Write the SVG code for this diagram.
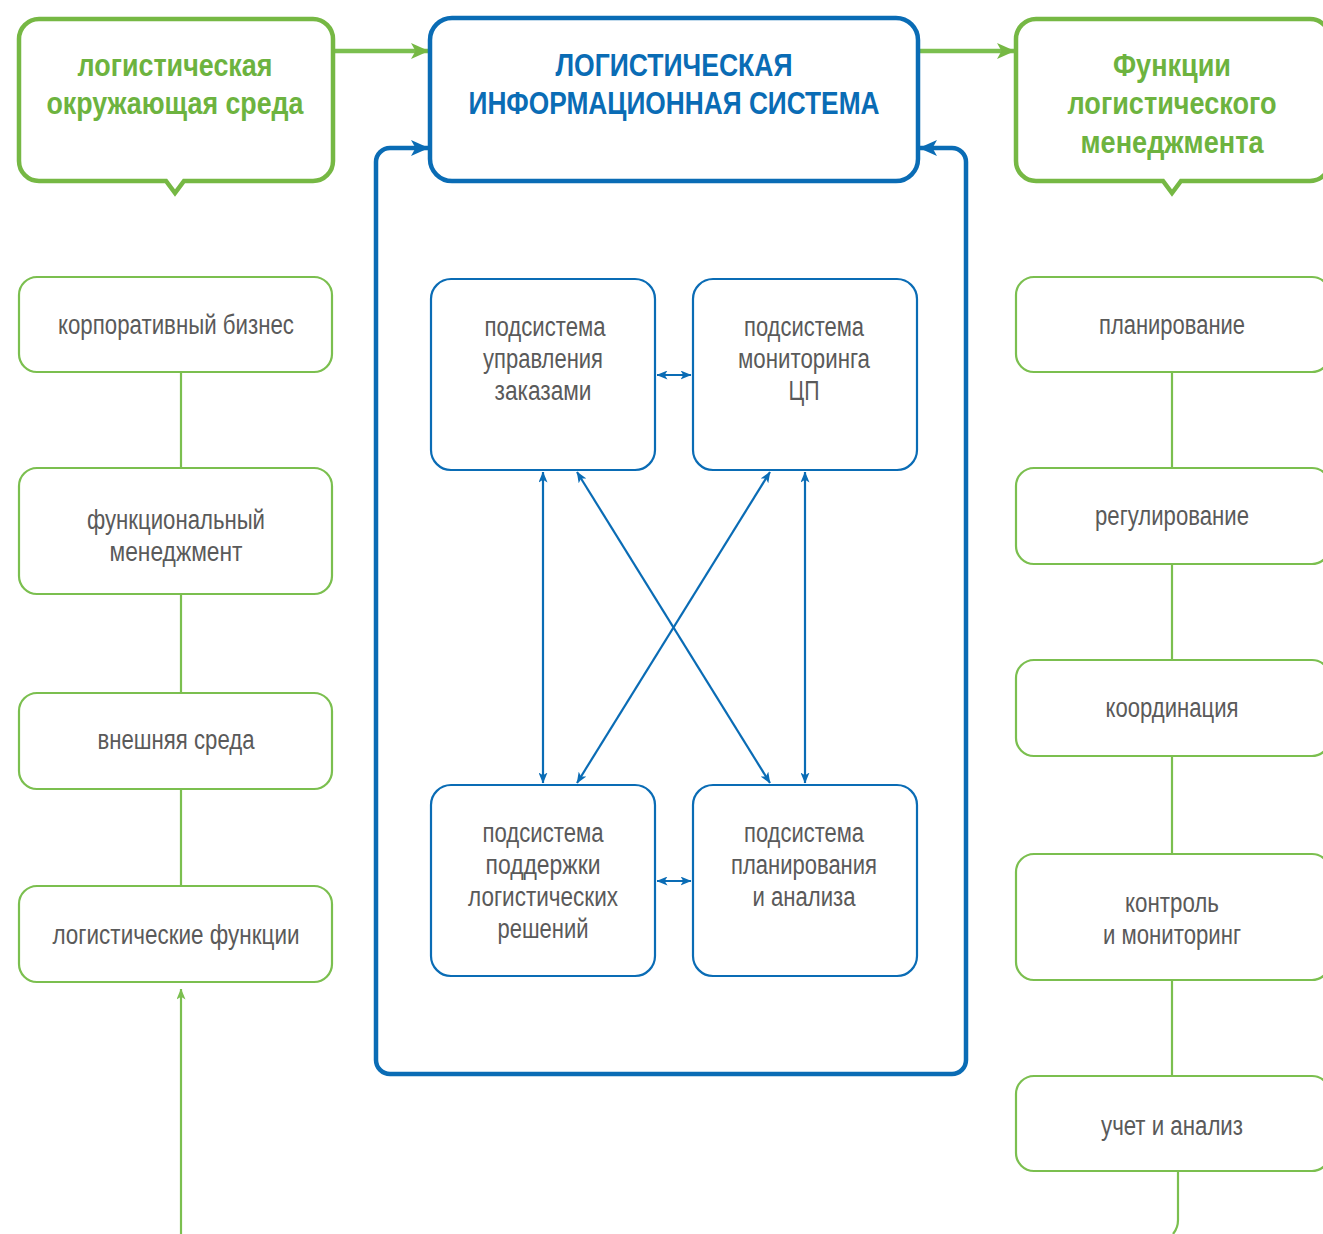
<svg xmlns="http://www.w3.org/2000/svg" width="1323" height="1234" viewBox="0 0 1323 1234">
<defs>
<style>
.gbig{fill:#fff;stroke:#76b844;stroke-width:4.5}
.bbig{fill:#fff;stroke:#0a6cb5;stroke-width:4.5}
.gbox{fill:#fff;stroke:#7bbf4f;stroke-width:2.2}
.bbox{fill:#fff;stroke:#0a6cb5;stroke-width:2.2}
.gline{fill:none;stroke:#7bbf4f;stroke-width:2.2}
.bline{fill:none;stroke:#0a6cb5;stroke-width:2.2}
.gt{font-family:"Liberation Sans",Arial,sans-serif;font-weight:bold;font-size:32px;fill:#6db33f;text-anchor:middle}
.bt{font-family:"Liberation Sans",Arial,sans-serif;font-weight:bold;font-size:32px;fill:#0a6cb5;text-anchor:middle}
.t{font-family:"Liberation Sans",Arial,sans-serif;font-size:27px;fill:#5a5a5a;text-anchor:middle}
</style>
<marker id="ag" viewBox="0 0 18 16" refX="17" refY="8" markerWidth="18" markerHeight="16" markerUnits="userSpaceOnUse" orient="auto"><path d="M0 0 L18 8 L0 16 L4.5 8 Z" fill="#76b844"/></marker>
<marker id="ab" viewBox="0 0 18 16" refX="17" refY="8" markerWidth="18" markerHeight="16" markerUnits="userSpaceOnUse" orient="auto"><path d="M0 0 L18 8 L0 16 L4.5 8 Z" fill="#0a6cb5"/></marker>
<marker id="sb" viewBox="0 0 11 9" refX="10.5" refY="4.5" markerWidth="11" markerHeight="9" markerUnits="userSpaceOnUse" orient="auto-start-reverse"><path d="M0 0 L11 4.5 L0 9 L2.8 4.5 Z" fill="#0a6cb5"/></marker>
<marker id="sg" viewBox="0 0 11 9" refX="10.5" refY="4.5" markerWidth="11" markerHeight="9" markerUnits="userSpaceOnUse" orient="auto"><path d="M0 0 L11 4.5 L0 9 L2.8 4.5 Z" fill="#7bbf4f"/></marker>
</defs>
<rect width="1323" height="1234" fill="#fff"/>

<g id="connectors">
<path class="gline" style="stroke-width:4.5" d="M333 51 H428" marker-end="url(#ag)"/>
<path class="gline" style="stroke-width:4.5" d="M918 51 H1014" marker-end="url(#ag)"/>
<path class="bline" style="stroke-width:4.5" d="M671 1074 H390 A14 14 0 0 1 376 1060 V162 A14 14 0 0 1 390 148 H428" marker-end="url(#ab)"/>
<path class="bline" style="stroke-width:4.5" d="M671 1074 H952 A14 14 0 0 0 966 1060 V162 A14 14 0 0 0 952 148 H920" marker-end="url(#ab)"/>
<path class="gline" d="M181 372 V468 M181 594 V693 M181 789 V886"/>
<path class="gline" d="M181 1234 V989" marker-end="url(#sg)"/>
<path class="gline" d="M1172 372 V468 M1172 564 V660 M1172 756 V854 M1172 980 V1076"/>
<path class="gline" d="M1178 1171 V1220 Q1178 1228 1173 1234"/>
<path class="bline" d="M657 375 H691" marker-start="url(#sb)" marker-end="url(#sb)"/>
<path class="bline" d="M657 881 H691" marker-start="url(#sb)" marker-end="url(#sb)"/>
<path class="bline" d="M543 472 V783" marker-start="url(#sb)" marker-end="url(#sb)"/>
<path class="bline" d="M805 472 V783" marker-start="url(#sb)" marker-end="url(#sb)"/>
<path class="bline" d="M577 472 L770 783" marker-start="url(#sb)" marker-end="url(#sb)"/>
<path class="bline" d="M770 472 L577 783" marker-start="url(#sb)" marker-end="url(#sb)"/>
</g>

<g id="env">
<path class="gbig" d="M39 19 H313 A20 20 0 0 1 333 39 V161 A20 20 0 0 1 313 181 H184 L175 193 L166 181 H39 A20 20 0 0 1 19 161 V39 A20 20 0 0 1 39 19 Z"/>
<text class="gt" x="175" y="76" textLength="195" lengthAdjust="spacingAndGlyphs">логистическая</text>
<text class="gt" x="175" y="114" textLength="257" lengthAdjust="spacingAndGlyphs">окружающая среда</text>
</g>

<g id="lis">
<rect class="bbig" x="430" y="18" width="488" height="163" rx="22"/>
<text class="bt" x="674" y="76" textLength="237" lengthAdjust="spacingAndGlyphs">ЛОГИСТИЧЕСКАЯ</text>
<text class="bt" x="674" y="114" textLength="411" lengthAdjust="spacingAndGlyphs">ИНФОРМАЦИОННАЯ СИСТЕМА</text>
</g>

<g id="functions">
<path class="gbig" d="M1036 19 H1310 A20 20 0 0 1 1330 39 V161 A20 20 0 0 1 1310 181 H1181 L1172 193 L1163 181 H1036 A20 20 0 0 1 1016 161 V39 A20 20 0 0 1 1036 19 Z"/>
<text class="gt" x="1172" y="76" textLength="118" lengthAdjust="spacingAndGlyphs">Функции</text>
<text class="gt" x="1172" y="114" textLength="209" lengthAdjust="spacingAndGlyphs">логистического</text>
<text class="gt" x="1172" y="153" textLength="183" lengthAdjust="spacingAndGlyphs">менеджмента</text>
</g>

<g id="l1"><rect class="gbox" x="19" y="277" width="313" height="95" rx="18"/>
<text class="t" x="176" y="334" textLength="236" lengthAdjust="spacingAndGlyphs">корпоративный бизнес</text></g>
<g id="l2"><rect class="gbox" x="19" y="468" width="313" height="126" rx="18"/>
<text class="t" x="176" y="529" textLength="178" lengthAdjust="spacingAndGlyphs">функциональный</text>
<text class="t" x="176" y="561" textLength="133" lengthAdjust="spacingAndGlyphs">менеджмент</text></g>
<g id="l3"><rect class="gbox" x="19" y="693" width="313" height="96" rx="18"/>
<text class="t" x="176" y="749" textLength="157" lengthAdjust="spacingAndGlyphs">внешняя среда</text></g>
<g id="l4"><rect class="gbox" x="19" y="886" width="313" height="96" rx="18"/>
<text class="t" x="176" y="944" textLength="247" lengthAdjust="spacingAndGlyphs">логистические функции</text></g>

<g id="r1"><rect class="gbox" x="1016" y="277" width="314" height="95" rx="18"/>
<text class="t" x="1172" y="334" textLength="146" lengthAdjust="spacingAndGlyphs">планирование</text></g>
<g id="r2"><rect class="gbox" x="1016" y="468" width="314" height="96" rx="18"/>
<text class="t" x="1172" y="525" textLength="154" lengthAdjust="spacingAndGlyphs">регулирование</text></g>
<g id="r3"><rect class="gbox" x="1016" y="660" width="314" height="96" rx="18"/>
<text class="t" x="1172" y="717" textLength="133" lengthAdjust="spacingAndGlyphs">координация</text></g>
<g id="r4"><rect class="gbox" x="1016" y="854" width="314" height="126" rx="18"/>
<text class="t" x="1172" y="912" textLength="94" lengthAdjust="spacingAndGlyphs">контроль</text>
<text class="t" x="1172" y="944" textLength="138" lengthAdjust="spacingAndGlyphs">и мониторинг</text></g>
<g id="r5"><rect class="gbox" x="1016" y="1076" width="314" height="95" rx="18"/>
<text class="t" x="1172" y="1135" textLength="142" lengthAdjust="spacingAndGlyphs">учет и анализ</text></g>

<g id="sA"><rect class="bbox" x="431" y="279" width="224" height="191" rx="20"/>
<text class="t" x="545" y="336" textLength="121" lengthAdjust="spacingAndGlyphs">подсистема</text>
<text class="t" x="543" y="368" textLength="120" lengthAdjust="spacingAndGlyphs">управления</text>
<text class="t" x="543" y="400" textLength="97" lengthAdjust="spacingAndGlyphs">заказами</text></g>
<g id="sB"><rect class="bbox" x="693" y="279" width="224" height="191" rx="20"/>
<text class="t" x="804" y="336" textLength="120" lengthAdjust="spacingAndGlyphs">подсистема</text>
<text class="t" x="804" y="368" textLength="132" lengthAdjust="spacingAndGlyphs">мониторинга</text>
<text class="t" x="804" y="400" textLength="31" lengthAdjust="spacingAndGlyphs">ЦП</text></g>
<g id="sC"><rect class="bbox" x="431" y="785" width="224" height="191" rx="20"/>
<text class="t" x="543" y="842" textLength="121" lengthAdjust="spacingAndGlyphs">подсистема</text>
<text class="t" x="543" y="874" textLength="115" lengthAdjust="spacingAndGlyphs">поддержки</text>
<text class="t" x="543" y="906" textLength="150" lengthAdjust="spacingAndGlyphs">логистических</text>
<text class="t" x="543" y="938" textLength="91" lengthAdjust="spacingAndGlyphs">решений</text></g>
<g id="sD"><rect class="bbox" x="693" y="785" width="224" height="191" rx="20"/>
<text class="t" x="804" y="842" textLength="120" lengthAdjust="spacingAndGlyphs">подсистема</text>
<text class="t" x="804" y="874" textLength="146" lengthAdjust="spacingAndGlyphs">планирования</text>
<text class="t" x="804" y="906" textLength="103" lengthAdjust="spacingAndGlyphs">и анализа</text></g>
</svg>
